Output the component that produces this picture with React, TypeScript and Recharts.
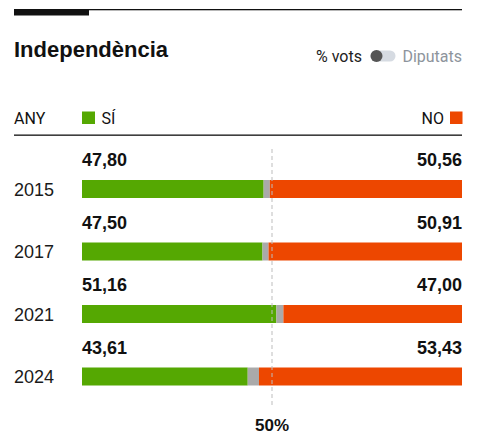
import React from 'react';
import { BarChart, Bar, XAxis, YAxis, ReferenceLine, LabelList } from 'recharts';

const years = ['2015', '2017', '2021', '2024'];
const siValues = [47.8, 47.5, 51.16, 43.61];
const noValues = [50.56, 50.91, 47.0, 53.43];
const siLabels = ['47,80', '47,50', '51,16', '43,61'];
const noLabels = ['50,56', '50,91', '47,00', '53,43'];

const GREEN = '#55a802';
const ORANGE = '#ed4700';
const GRAY = '#aaaaaa';
const NUM_FONT = '"Liberation Sans", Arial, sans-serif';
const UI_FONT = 'Roboto, "Liberation Sans", sans-serif';

const data = years.map((y, i) => ({
  year: y,
  si: siValues[i],
  blank: +(100 - siValues[i] - noValues[i]).toFixed(2),
  no: noValues[i],
  siLabel: siLabels[i],
  noLabel: noLabels[i],
}));

const YearTick = (props: any) => {
  const { y, payload } = props;
  return (
    <text x={14} y={y + 6.5} fontFamily={NUM_FONT} fontSize={18} fill="#1a1a1a">
      {payload.value}
    </text>
  );
};

const SiLabel = (props: any) => {
  const { x, y, index } = props;
  return (
    <text x={x} y={y - 14} fontFamily={NUM_FONT} fontWeight={700} fontSize={18} fill="#111">
      {siLabels[index]}
    </text>
  );
};

const NoLabel = (props: any) => {
  const { x, y, width, index } = props;
  return (
    <text x={x + width} y={y - 14} textAnchor="end" fontFamily={NUM_FONT} fontWeight={700} fontSize={18} fill="#111">
      {noLabels[index]}
    </text>
  );
};

const FiftyLine = (props: any) => {
  const { x1, y1, y2 } = props;
  const top = Math.min(y1, y2);
  const bottom = Math.max(y1, y2);
  return (
    <g>
      <line x1={x1} x2={x1} y1={top - 9} y2={bottom - 3} stroke="#bdbdbd" strokeWidth={1} strokeDasharray="4 3" />
      <text x={x1} y={bottom + 23} textAnchor="middle" fontFamily={NUM_FONT} fontWeight={700} fontSize={17} fill="#111">
        50%
      </text>
    </g>
  );
};

export default function App() {
  return (
    <div style={{ position: 'absolute', left: 0, top: 0, width: 486, height: 446, background: '#fff' }}>
      <div style={{ position: 'absolute', left: 0, top: 0 }}>
        <BarChart
          width={486}
          height={446}
          data={data}
          layout="vertical"
          margin={{ top: 158, right: 24, bottom: 38, left: 14 }}
          barSize={18}
        >
          <XAxis type="number" domain={[0, 100]} hide />
          <YAxis type="category" dataKey="year" width={68} axisLine={false} tickLine={false} tick={<YearTick />} />
          <ReferenceLine x={50} shape={(p: any) => <FiftyLine {...p} />} />
          <Bar dataKey="si" stackId="a" fill={GREEN} isAnimationActive={false}>
            <LabelList dataKey="siLabel" content={<SiLabel />} />
          </Bar>
          <Bar dataKey="blank" stackId="a" fill={GRAY} isAnimationActive={false} />
          <Bar dataKey="no" stackId="a" fill={ORANGE} isAnimationActive={false}>
            <LabelList dataKey="noLabel" content={<NoLabel />} />
          </Bar>
        </BarChart>
      </div>
      <svg
        width={486}
        height={446}
        style={{ position: 'absolute', left: 0, top: 0, pointerEvents: 'none' }}
      >
        <rect x={14} y={9} width={448} height={1.3} fill="#111" />
        <rect x={14} y={9} width={75} height={6.5} fill="#111" />
        <text x={14} y={57} fontFamily={NUM_FONT} fontWeight={700} fontSize={22} fill="#111">
          Independència
        </text>
        <text x={316} y={62} fontFamily={UI_FONT} fontSize={16} fill="#222">
          % vots
        </text>
        <rect x={370.5} y={50.5} width={25} height={11} rx={5.5} fill="#d6dbe2" />
        <circle cx={376.5} cy={56} r={6} fill="#555" />
        <text x={462} y={62} textAnchor="end" fontFamily={UI_FONT} fontSize={16} fill="#8d949c">
          Diputats
        </text>
        <text x={14} y={124} fontFamily={UI_FONT} fontSize={16} fill="#111">
          ANY
        </text>
        <rect x={82} y={111.5} width={13} height={12.5} fill={GREEN} />
        <text x={101.5} y={124} fontFamily={UI_FONT} fontSize={16} fill="#111">
          SÍ
        </text>
        <text x={444} y={124} textAnchor="end" fontFamily={UI_FONT} fontSize={16} fill="#111">
          NO
        </text>
        <rect x={450} y={111.5} width={12.5} height={12.5} fill={ORANGE} />
        <rect x={14} y={134.5} width={448} height={1.3} fill="#111" />
      </svg>
    </div>
  );
}
